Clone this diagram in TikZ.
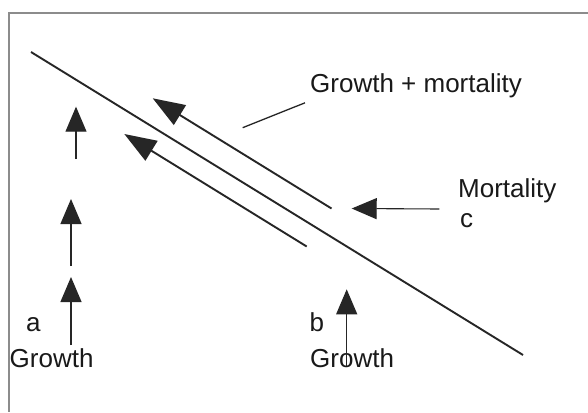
\documentclass[tikz,border=0pt]{standalone}
\usepackage{fontspec}
\setmainfont{Liberation Sans}
\usetikzlibrary{arrows.meta}
\begin{document}
\begin{tikzpicture}[x=1pt,y=-1pt,
  lbl/.style={inner sep=0pt,anchor=base west,font=\fontsize{26}{30}\selectfont,text=black!90},
  frameline/.style={draw=black!45,line width=1.2pt},
  diag/.style={draw=black!85,line width=1.9pt},
  diagarrow/.style={diag,-{Triangle[length=32pt,width=23pt]}},
  uparrow/.style={draw=black!85,line width=1.1pt,-{Triangle[length=25pt,width=21pt]}},
  leader/.style={draw=black!85,line width=1.3pt}]
\useasboundingbox (0,0) rectangle (588,412);
\fill[white] (0,0) rectangle (588,412);
% frame
\coordinate (ftl) at (9,13);
\coordinate (ftr) at (588,13);
\coordinate (fbl) at (9,412);
\draw[frameline] (ftr) -- (ftl) -- (fbl);
% main diagonal
\coordinate (d1) at (31,52);
\coordinate (d2) at (523,355);
\draw[diag] (d1) -- (d2);
% diagonal arrows
\coordinate (u1) at (331.5,208.5);
\coordinate (u2) at (152.7,98.3);
\draw[diagarrow] (u1) -- (u2);
\coordinate (l1) at (306.7,246.5);
\coordinate (l2) at (124.3,134);
\draw[diagarrow] (l1) -- (l2);
% texts
\node[lbl] (gm) at (310,92) {Growth + mortality};
\node[lbl] (mort) at (458,197) {Mortality};
\node[lbl] (c) at (460,227) {c};
\node[lbl] (a) at (26,331) {a};
\node[lbl] (b) at (309.5,331) {b};
\node[lbl] (ga) at (9.5,367) {Growth};
\node[lbl] (gb) at (310,367) {Growth};
% leader line
\coordinate (ld1) at (242.7,127.7);
\coordinate (ld2) at (305,102.8);
\draw[leader] (ld1) -- (ld2);
% mortality arrow
\coordinate (m1) at (439.3,209);
\coordinate (m2) at (351.7,208.5);
\draw[uparrow] (m1) -- (m2);
% left vertical arrows
\coordinate (a1s) at (76,159);
\coordinate (a1t) at (76,106.7);
\draw[uparrow] (a1s) -- (a1t);
\coordinate (a2s) at (71,266);
\coordinate (a2t) at (71,199);
\draw[uparrow] (a2s) -- (a2t);
\coordinate (a3s) at (71,345);
\coordinate (a3t) at (71,277);
\draw[uparrow] (a3s) -- (a3t);
% b arrow
\coordinate (bs) at (346.7,366);
\coordinate (bt) at (346.7,289.3);
\draw[uparrow] (bs) -- (bt);
\end{tikzpicture}
\end{document}
